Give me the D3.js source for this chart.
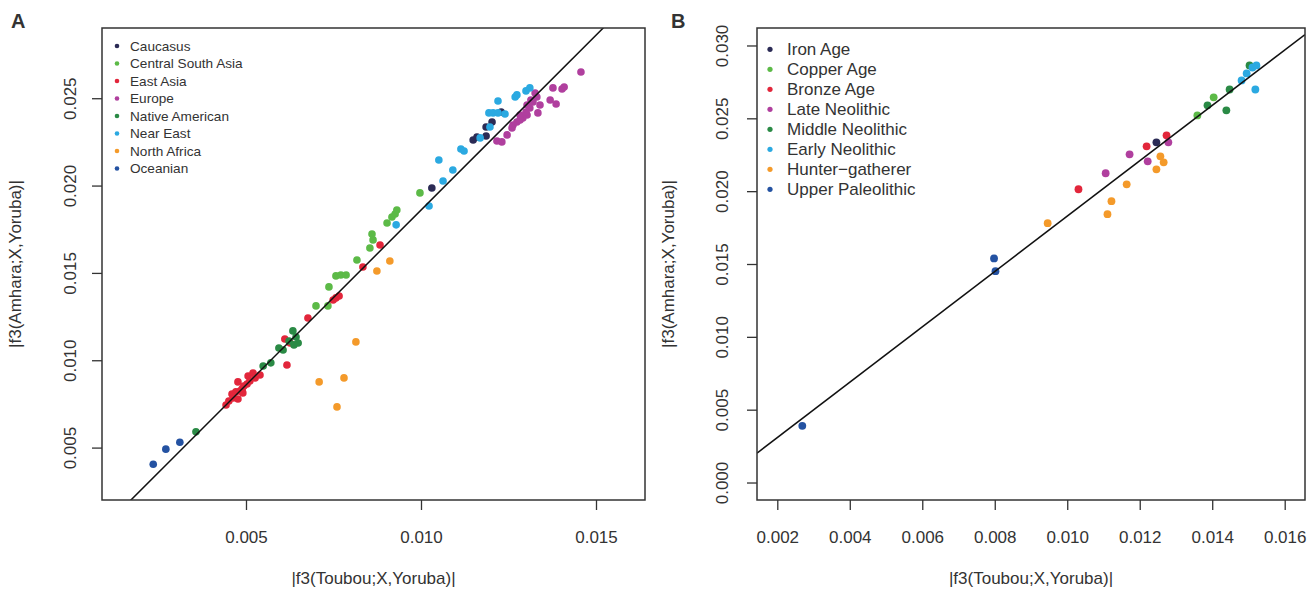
<!DOCTYPE html>
<html>
<head>
<meta charset="utf-8">
<script src="https://cdn.jsdelivr.net/npm/d3@7"></script>
<style>
  html, body { margin: 0; padding: 0; background: #fff; }
  svg { display: block; }
  text { font-family: "Liberation Sans", Arial, Helvetica, sans-serif; fill: #333; }
</style>
</head>
<body>
<svg id="chart" width="1308" height="600"></svg>
<script>
// ---------- panel A: modern populations, [|f3(Toubou;X,Yoruba)|, |f3(Amhara;X,Yoruba)|] ----------
const regionLabels = ["Caucasus", "Central South Asia", "East Asia", "Europe",
                      "Native American", "Near East", "North Africa", "Oceanian"];

const caucasus = [[0.01031,0.01986],[0.01149,0.02261],[0.01160,0.02278],[0.01186,0.02284],
                  [0.01186,0.02335],[0.01203,0.02364],[0.01229,0.02421]];
const centralSouthAsia = [[0.00700,0.01311],[0.00734,0.01311],[0.00737,0.01420],[0.00757,0.01483],
                  [0.00771,0.01488],[0.00786,0.01488],[0.00817,0.01574],[0.00854,0.01643],
                  [0.00863,0.01689],[0.00860,0.01723],[0.00903,0.01786],[0.00917,0.01820],
                  [0.00926,0.01837],[0.00931,0.01860],[0.00997,0.01958]];
const eastAsia = [[0.00443,0.00744],[0.00451,0.00767],[0.00463,0.00784],[0.00460,0.00807],
                  [0.00471,0.00819],[0.00477,0.00876],[0.00477,0.00778],[0.00483,0.00824],
                  [0.00489,0.00836],[0.00494,0.00853],[0.00503,0.00864],[0.00506,0.00910],
                  [0.00511,0.00881],[0.00520,0.00927],[0.00526,0.00899],[0.00540,0.00916],
                  [0.00491,0.00813],[0.00617,0.00973],[0.00611,0.01122],[0.00626,0.01099],
                  [0.00677,0.01242],[0.00749,0.01345],[0.00757,0.01357],[0.00766,0.01368],
                  [0.00834,0.01534],[0.00883,0.01660]];
const europe = [[0.01457,0.02650],[0.01377,0.02559],[0.01403,0.02553],[0.01409,0.02564],
                  [0.01369,0.02490],[0.01386,0.02467],[0.01326,0.02530],[0.01331,0.02507],
                  [0.01314,0.02490],[0.01340,0.02461],[0.01334,0.02416],[0.01303,0.02461],
                  [0.01311,0.02444],[0.01303,0.02404],[0.01291,0.02387],[0.01283,0.02404],
                  [0.01274,0.02364],[0.01263,0.02347],[0.01260,0.02330],[0.01246,0.02290],
                  [0.01217,0.02255],[0.01231,0.02250],[0.01320,0.02479],[0.01300,0.02421],
                  [0.01283,0.02376]];
const nativeAmerican = [[0.00357,0.00590],[0.00549,0.00967],[0.00571,0.00985],[0.00594,0.01070],
                  [0.00606,0.01059],[0.00623,0.01110],[0.00634,0.01168],[0.00643,0.01133],
                  [0.00649,0.01099],[0.00637,0.01088]];
const nearEast = [[0.00929,0.01775],[0.01023,0.01883],[0.01051,0.02146],[0.01063,0.02026],
                  [0.01091,0.02089],[0.01114,0.02209],[0.01123,0.02198],[0.01169,0.02273],
                  [0.01197,0.02335],[0.01194,0.02416],[0.01206,0.02416],[0.01220,0.02416],
                  [0.01240,0.02410],[0.01220,0.02484],[0.01269,0.02507],[0.01274,0.02519],
                  [0.01300,0.02542],[0.01311,0.02559]];
const northAfrica = [[0.00709,0.00876],[0.00760,0.00733],[0.00780,0.00899],[0.00814,0.01105],
                  [0.00874,0.01511],[0.00911,0.01568]];
const oceanian = [[0.00235,0.00405],[0.00271,0.00491],[0.00311,0.00531]];

const ticksAx = [0.005, 0.010, 0.015];
const ticksAy = [0.005, 0.010, 0.015, 0.020, 0.025];
const rangeAx = [0.000886, 0.0164];
const rangeAy = [0.0020, 0.02902];
const fitA = { slope: 2.0025, intercept: -0.00143 };

// ---------- panel B: ancient samples ----------
const periodLabels = ["Iron Age", "Copper Age", "Bronze Age", "Late Neolithic",
                      "Middle Neolithic", "Early Neolithic", "Hunter\u2212gatherer", "Upper Paleolithic"];

const ironAge = [[0.01246,0.02335]];
const copperAge = [[0.01359,0.02520],[0.01404,0.02644]];
const bronzeAge = [[0.01031,0.02013],[0.01219,0.02308],[0.01274,0.02383]];
const lateNeolithic = [[0.01106,0.02123],[0.01172,0.02253],[0.01222,0.02205],[0.01279,0.02335]];
const middleNeolithic = [[0.01387,0.02589],[0.01439,0.02555],[0.01448,0.02698],[0.01503,0.02863]];
const earlyNeolithic = [[0.01481,0.02760],[0.01495,0.02808],[0.01511,0.02849],[0.01522,0.02863],
                        [0.01519,0.02698]];
const hunterGatherer = [[0.00946,0.01780],[0.01111,0.01842],[0.01122,0.01931],[0.01164,0.02047],
                        [0.01246,0.02150],[0.01257,0.02239],[0.01266,0.02198]];
const upperPaleolithic = [[0.00269,0.00389],[0.00798,0.01538],[0.00802,0.01451]];

const ticksBx = [0.002, 0.004, 0.006, 0.008, 0.010, 0.012, 0.014, 0.016];
const ticksBy = [0.000, 0.005, 0.010, 0.015, 0.020, 0.025, 0.030];
const rangeBx = [0.00144, 0.01656];
const rangeBy = [-0.0012, 0.0312];
const fitB = { slope: 1.90, intercept: -0.000716 };

// shared colour set, one per legend row
const palette = ["#2b2b55", "#5cba47", "#e2263b", "#b03f9e", "#2a8a45", "#2ba9e1", "#f49a2a", "#2452a2"];

const xTitle = "|f3(Toubou;X,Yoruba)|";
const yTitle = "|f3(Amhara;X,Yoruba)|";

const svg = d3.select("#chart");
const fmt = d3.format(".3f");

function drawPanel(cfg) {
  const { box, groups, labels, ticksX, ticksY, domX, domY, fit, letter, legend } = cfg;
  const x = d3.scaleLinear().domain(domX).range([box.left, box.right]);
  const y = d3.scaleLinear().domain(domY).range([box.bottom, box.top]);
  const g = svg.append("g");

  const clipId = "clip-" + letter;
  g.append("clipPath").attr("id", clipId)
    .append("rect")
    .attr("x", box.left).attr("y", box.top)
    .attr("width", box.right - box.left).attr("height", box.bottom - box.top);

  // points
  const plot = g.append("g").attr("clip-path", `url(#${clipId})`);
  groups.forEach((pts, i) => {
    plot.append("g").selectAll("circle").data(pts).join("circle")
      .attr("cx", d => x(d[0])).attr("cy", d => y(d[1]))
      .attr("r", cfg.pointR)
      .attr("fill", palette[i]);
  });

  // fitted line
  plot.append("line")
    .attr("x1", x(domX[0])).attr("y1", y(fit.intercept + fit.slope * domX[0]))
    .attr("x2", x(domX[1])).attr("y2", y(fit.intercept + fit.slope * domX[1]))
    .attr("stroke", "#111").attr("stroke-width", 1.5);

  // axes
  const ax = g.append("g").attr("transform", `translate(0,${box.bottom})`)
    .call(d3.axisBottom(x).tickValues(ticksX).tickFormat(fmt).tickSize(10).tickSizeOuter(0));
  ax.select(".domain").remove();
  ax.selectAll(".tick line").attr("stroke", "#333").attr("stroke-width", 1.3);
  ax.selectAll(".tick text").attr("y", 37).attr("dy", "0.35em")
    .style("font-size", "17px").attr("fill", "#333");

  const ay = g.append("g").attr("transform", `translate(${box.left},0)`)
    .call(d3.axisLeft(y).tickValues(ticksY).tickFormat(fmt).tickSize(10).tickSizeOuter(0));
  ay.select(".domain").remove();
  ay.selectAll(".tick line").attr("stroke", "#333").attr("stroke-width", 1.3);
  ay.selectAll(".tick text")
    .attr("x", null).attr("dy", "0.35em")
    .attr("transform", `translate(${-cfg.yLabelOffset},0) rotate(-90)`)
    .attr("text-anchor", "middle")
    .style("font-size", "17px").attr("fill", "#333");

  // frame
  g.append("rect")
    .attr("x", box.left).attr("y", box.top)
    .attr("width", box.right - box.left).attr("height", box.bottom - box.top)
    .attr("fill", "none").attr("stroke", "#333").attr("stroke-width", 1.5);

  // axis titles
  g.append("text")
    .attr("x", (box.left + box.right) / 2).attr("y", 578).attr("dy", "0.35em")
    .attr("text-anchor", "middle").style("font-size", "17px").text(xTitle);
  g.append("text")
    .attr("transform", `translate(${box.left - cfg.yTitleOffset},${(box.top + box.bottom) / 2}) rotate(-90)`)
    .attr("dy", "0.35em").attr("text-anchor", "middle").style("font-size", "17px").text(yTitle);

  // panel letter
  g.append("text")
    .attr("x", cfg.letterX).attr("y", 28)
    .style("font-size", "20px").style("font-weight", "bold").attr("fill", "#1a1a1a")
    .text(letter);

  // legend
  const lg = g.append("g");
  labels.forEach((lab, i) => {
    const cy = legend.top + i * legend.step;
    lg.append("circle").attr("cx", legend.dotX).attr("cy", cy).attr("r", legend.dotR).attr("fill", palette[i]);
    lg.append("text").attr("x", legend.textX).attr("y", cy).attr("dy", "0.35em")
      .style("font-size", legend.fontSize + "px").attr("fill", "#333").text(lab);
  });
}

drawPanel({
  letter: "A", letterX: 11,
  box: { left: 102, right: 645, top: 28, bottom: 500 },
  groups: [caucasus, centralSouthAsia, eastAsia, europe, nativeAmerican, nearEast, northAfrica, oceanian],
  labels: regionLabels,
  ticksX: ticksAx, ticksY: ticksAy, domX: rangeAx, domY: rangeAy, fit: fitA,
  pointR: 3.8, yLabelOffset: 32, yTitleOffset: 87,
  legend: { top: 46, step: 17.5, dotX: 117, textX: 130, dotR: 2.3, fontSize: 13.6 }
});

drawPanel({
  letter: "B", letterX: 671,
  box: { left: 757, right: 1305, top: 28, bottom: 500 },
  groups: [ironAge, copperAge, bronzeAge, lateNeolithic, middleNeolithic, earlyNeolithic, hunterGatherer, upperPaleolithic],
  labels: periodLabels,
  ticksX: ticksBx, ticksY: ticksBy, domX: rangeBx, domY: rangeBy, fit: fitB,
  pointR: 3.9, yLabelOffset: 35, yTitleOffset: 89,
  legend: { top: 49.3, step: 20, dotX: 770, textX: 787, dotR: 2.6, fontSize: 17 }
});
</script>
</body>
</html>
